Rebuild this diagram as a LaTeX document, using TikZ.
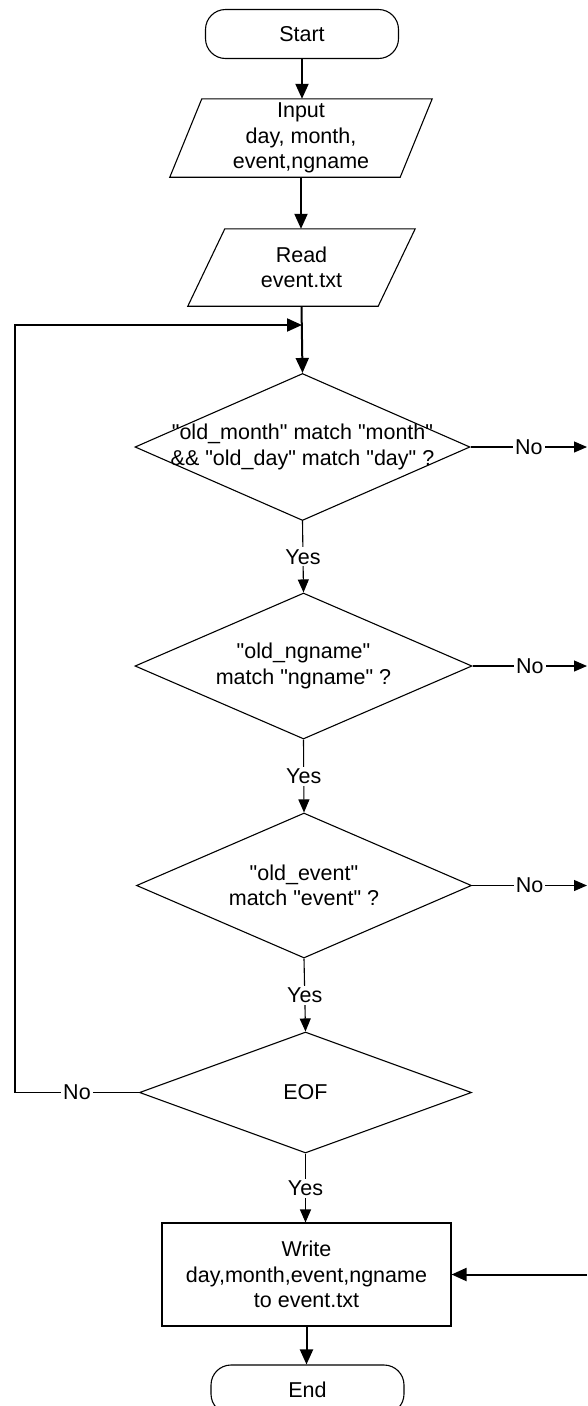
\documentclass[tikz,border=0pt]{standalone}
\usepackage{fontspec}
\newfontfamily\flowfont{Liberation Sans}
\usetikzlibrary{shapes.geometric,arrows.meta,calc}
\begin{document}
\begin{tikzpicture}[x=1pt,y=-1pt,
  txt/.style={font=\flowfont\fontsize{21.5}{25.5}\selectfont, align=center, inner sep=0pt},
  outline/.style={draw, line width=1.1pt},
  term/.style={outline, txt, rounded corners=20pt, minimum width=193pt, minimum height=49pt},
  iobox/.style={txt},
  dia/.style={outline, diamond, inner sep=0pt},
  procbox/.style={outline, txt, minimum width=289pt, minimum height=103pt},
  lbl/.style={txt, fill=white, inner sep=2pt},
  mainarr/.style={line width=2pt, -{Triangle[length=15pt,width=13pt]}},
  thinarr/.style={line width=1.1pt, -{Triangle[length=13pt,width=11pt]}},
  thinline/.style={line width=1.1pt}
]
\useasboundingbox (0,0) rectangle (587,1406);
\clip (0,0) rectangle (587,1406);
\fill[white] (0,0) rectangle (587,1406);

% Start
\node[term] (start) at (302,34) {Start};

% Input
\node[iobox, minimum width=230pt, minimum height=78pt] (input) at (301,138) {Input\\day, month,\\event,ngname};
\draw[outline] ($(input.north west)+(16,0)$) -- ($(input.north east)+(16,0)$)
  -- ($(input.south east)+(-16,0)$) -- ($(input.south west)+(-16,0)$) -- cycle;

% Read
\node[iobox, minimum width=190pt, minimum height=77pt] (read) at (301.5,267.5) {Read\\event.txt};
\draw[outline] ($(read.north west)+(18.5,0)$) -- ($(read.north east)+(18.5,0)$)
  -- ($(read.south east)+(-18.5,0)$) -- ($(read.south west)+(-18.5,0)$) -- cycle;

% Diamonds
\node[dia, minimum width=335pt, minimum height=147pt] (d1) at (302.5,447) {};
\node[txt] (d1t) at (d1.center) {"old\_month" match "month"\\\&\& "old\_day" match "day" ?};
\node[dia, minimum width=337pt, minimum height=146pt] (d2) at (303.5,666) {};
\node[txt] (d2t) at (d2.center) {"old\_ngname"\\match "ngname" ?};
\node[dia, minimum width=335pt, minimum height=145pt] (d3) at (304,885.5) {};
\node[txt] (d3t) at (d3.center) {"old\_event"\\match "event" ?};
\node[dia, minimum width=332pt, minimum height=121pt] (d4) at (305.5,1092.5) {};
\node[txt] (d4t) at (d4.center) {EOF};

% Write
\node[procbox] (write) at (306.5,1274.5) {Write\\day,month,event,ngname\\to event.txt};

% End
\node[term] (end) at (307.5,1389.5) {End};

% coordinates
\coordinate (jn) at (302,325);
\coordinate (lc) at (15,1092.5);
\coordinate (r1) at (587,447);
\coordinate (r2) at (587,666);
\coordinate (r3) at (587,885.5);
\coordinate (rin) at (587,1274.5);

% connectors
\draw[mainarr] (start.south) -- (start.south |- input.north);
\draw[mainarr] (input.south) -- (input.south |- read.north);
\draw[mainarr] (read.south) -- (d1.north);
\draw[thinarr] (d1.south) -- node[lbl] {Yes} (d2.north);
\draw[thinarr] (d2.south) -- node[lbl] {Yes} (d3.north);
\draw[thinarr] (d3.south) -- node[lbl] {Yes} (d4.north);
\draw[thinarr] (d4.south) -- node[lbl] {Yes} (d4.south |- write.north);
\draw[mainarr] (write.south) -- (write.south |- end.north);

\draw[thinarr] (d1.east) -- node[lbl] {No} (r1);
\draw[thinarr] (d2.east) -- node[lbl] {No} (r2);
\draw[thinarr] (d3.east) -- node[lbl] {No} (r3);
\draw[mainarr] (rin) -- (write.east);

\draw[thinline] (d4.west) -- node[lbl] {No} (lc);
\draw[mainarr] (lc) |- (jn);
\end{tikzpicture}
\end{document}
